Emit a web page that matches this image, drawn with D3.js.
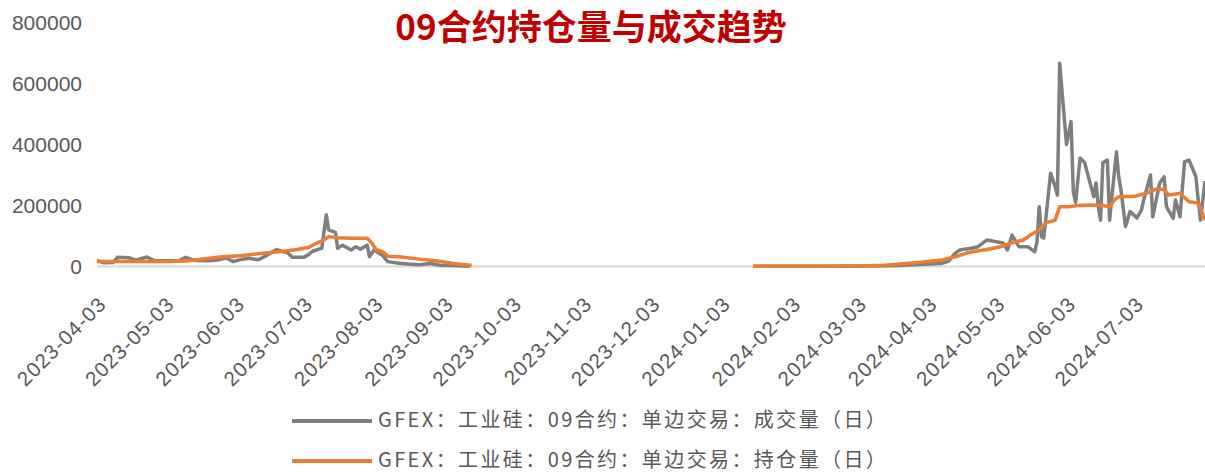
<!DOCTYPE html>
<html>
<head>
<meta charset="utf-8">
<script src="https://cdn.jsdelivr.net/npm/d3@7/dist/d3.min.js"></script>
<style>
  html, body { margin: 0; padding: 0; background: #ffffff; }
  svg { display: block; }
</style>
</head>
<body>
<svg id="chart" width="1205" height="472"></svg>
<script>
// GFEX industrial silicon, 09 contract: daily volume and open interest
const titleText = "09合约持仓量与成交趋势";
const seriesNames = [
  "GFEX：工业硅：09合约：单边交易：成交量（日）",
  "GFEX：工业硅：09合约：单边交易：持仓量（日）"
];

const yTicks = [0, 200000, 400000, 600000, 800000];
const xTickLabels = [
  "2023-04-03", "2023-05-03", "2023-06-03", "2023-07-03", "2023-08-03",
  "2023-09-03", "2023-10-03", "2023-11-03", "2023-12-03", "2024-01-03",
  "2024-02-03", "2024-03-03", "2024-04-03", "2024-05-03", "2024-06-03",
  "2024-07-03"
];

// 成交量 (volume); null marks the break between contract years
const volDates = [
  "2023-04-03","2023-04-06","2023-04-10","2023-04-12","2023-04-17","2023-04-20",
  "2023-04-25","2023-04-28","2023-05-04","2023-05-09","2023-05-12","2023-05-16",
  "2023-05-22","2023-05-26","2023-05-30","2023-06-02","2023-06-06","2023-06-09",
  "2023-06-13","2023-06-16","2023-06-19","2023-06-21","2023-06-26","2023-06-28",
  "2023-07-03","2023-07-05","2023-07-07","2023-07-11","2023-07-13","2023-07-14",
  "2023-07-17","2023-07-18","2023-07-20","2023-07-24","2023-07-26","2023-07-28",
  "2023-07-31","2023-08-01","2023-08-03","2023-08-07","2023-08-09","2023-08-14",
  "2023-08-18","2023-08-23","2023-08-28","2023-09-01","2023-09-06","2023-09-11",
  "2023-09-14",
  "2023-12-01",
  "2024-01-17","2024-02-20","2024-03-11","2024-03-21","2024-04-01","2024-04-09",
  "2024-04-12","2024-04-15","2024-04-17","2024-04-22","2024-04-25","2024-04-29",
  "2024-05-06","2024-05-08","2024-05-10","2024-05-13","2024-05-17","2024-05-20",
  "2024-05-21","2024-05-22","2024-05-23","2024-05-24","2024-05-27","2024-05-29",
  "2024-05-30","2024-05-31","2024-06-03","2024-06-05","2024-06-06","2024-06-07",
  "2024-06-09","2024-06-11","2024-06-13","2024-06-15","2024-06-16","2024-06-17",
  "2024-06-18","2024-06-19","2024-06-21","2024-06-22","2024-06-23","2024-06-25",
  "2024-06-26","2024-06-27","2024-06-29","2024-07-01","2024-07-04","2024-07-06",
  "2024-07-07","2024-07-10","2024-07-11","2024-07-14","2024-07-16","2024-07-17",
  "2024-07-20","2024-07-21","2024-07-23","2024-07-25","2024-07-27","2024-07-30",
  "2024-07-31","2024-08-01","2024-08-03"
];
const volValues = [
  20000, 12000, 13000, 30000, 29000, 21000,
  31000, 20000, 19000, 18000, 30000, 20000,
  19000, 21000, 28000, 16000, 24000, 27000,
  22000, 33000, 47000, 55000, 45000, 30000,
  30000, 38000, 50000, 60000, 170000, 120000,
  112000, 60000, 70000, 54000, 65000, 57000,
  70000, 32000, 54000, 35000, 16000, 11000,
  8000, 6000, 10000, 4000, 3000, 1500,
  500,
  null,
  500, 800, 1500, 3000, 7000, 10000,
  17000, 44000, 54000, 60000, 65000, 87000,
  77000, 54000, 103000, 65000, 65000, 48000,
  81000, 196000, 98000, 93000, 306000, 262000,
  234000, 666000, 400000, 475000, 245000, 210000,
  356000, 340000, 284000, 229000, 274000, 196000,
  152000, 340000, 349000, 152000, 230000, 376000,
  294000, 251000, 131000, 180000, 159000, 185000,
  218000, 300000, 163000, 273000, 294000, 196000,
  158000, 218000, 163000, 344000, 349000, 294000,
  218000, 152000, 280000
];

// 持仓量 (open interest)
const oiDates = [
  "2023-04-03","2023-04-17","2023-05-03","2023-05-12","2023-05-18","2023-05-27",
  "2023-06-05","2023-06-14","2023-06-22","2023-06-30","2023-07-05","2023-07-08",
  "2023-07-12","2023-07-14","2023-07-18","2023-07-24","2023-07-31","2023-08-02",
  "2023-08-04","2023-08-07","2023-08-09","2023-08-14","2023-08-22","2023-08-31",
  "2023-09-07","2023-09-13","2023-09-15",
  "2023-12-01",
  "2024-01-17","2024-02-15","2024-03-08","2024-03-15","2024-03-22","2024-03-31",
  "2024-04-09","2024-04-15","2024-04-20","2024-04-24","2024-04-29","2024-05-05",
  "2024-05-10","2024-05-15","2024-05-18","2024-05-22","2024-05-25","2024-05-29",
  "2024-05-31","2024-06-04","2024-06-08","2024-06-13","2024-06-19","2024-06-22",
  "2024-06-24","2024-06-26","2024-07-03","2024-07-08","2024-07-12","2024-07-16",
  "2024-07-18","2024-07-23","2024-07-27","2024-07-31","2024-08-03"
];
const oiValues = [
  16000, 16000, 16000, 18000, 23000, 31000,
  35000, 43000, 48000, 56000, 62000, 74000,
  87000, 98000, 94000, 93000, 93000, 77000,
  55000, 48000, 34000, 32000, 25000, 18000,
  10000, 5000, 3000,
  null,
  1000, 1200, 2500, 4000, 8000, 14000,
  21000, 32000, 44000, 50000, 56000, 65000,
  78000, 87000, 103000, 120000, 143000, 152000,
  196000, 196000, 200000, 202000, 200000, 196000,
  218000, 229000, 230000, 240000, 253000, 253000,
  234000, 240000, 212000, 208000, 152000
];

const parse = d3.utcParse("%Y-%m-%d");
const volData = volDates.map((d, i) => ({ date: parse(d), value: volValues[i] }));
const oiData = oiDates.map((d, i) => ({ date: parse(d), value: oiValues[i] }));

const svg = d3.select("#chart");
const W = 1205, H = 472;
const plot = { left: 97, right: 1205, top: 22.5, bottom: 266.5 };

const x = d3.scaleUtc()
  .domain([parse("2023-04-03"), parse("2024-08-03")])
  .range([plot.left, plot.right]);
const y = d3.scaleLinear()
  .domain([0, 800000])
  .range([plot.bottom, plot.top]);

const textGray = "#595959";
const latinFont = "'Liberation Sans', Arial, sans-serif";
const cjkFont = "'Noto Sans CJK SC', 'Liberation Sans', sans-serif";

// Title
svg.append("text")
  .attr("x", 591)
  .attr("y", 40)
  .attr("text-anchor", "middle")
  .attr("font-family", cjkFont)
  .attr("font-weight", 700)
  .attr("font-size", 35)
  .attr("fill", "#c00000")
  .text(titleText);

// Y axis labels (no axis line, no ticks)
const yAxis = d3.axisLeft(y).tickValues(yTicks).tickSize(0).tickPadding(0)
  .tickFormat(d3.format("d"));
const yg = svg.append("g").attr("transform", `translate(82,0)`).call(yAxis);
yg.select(".domain").remove();
yg.selectAll("text")
  .attr("font-family", latinFont)
  .attr("font-size", 21)
  .attr("fill", textGray);

// Horizontal baseline at zero
svg.append("line")
  .attr("x1", plot.left).attr("x2", plot.right)
  .attr("y1", y(0)).attr("y2", y(0))
  .attr("stroke", "#d9d9d9").attr("stroke-width", 2);

// X axis labels, rotated
const xTicks = xTickLabels.map(parse);
const xAxis = d3.axisBottom(x).tickValues(xTicks).tickSize(0).tickPadding(0)
  .tickFormat(d3.utcFormat("%Y-%m-%d"));
const xg = svg.append("g").attr("transform", `translate(0,${y(0)})`).call(xAxis);
xg.select(".domain").remove();
xg.selectAll("text")
  .attr("font-family", latinFont)
  .attr("font-size", 20.5)
  .attr("letter-spacing", 1.1)
  .attr("fill", textGray)
  .attr("text-anchor", "end")
  .attr("dy", 0)
  .attr("y", 0)
  .attr("transform", "translate(10,39) rotate(-45)");

// Lines
const line = d3.line()
  .defined(d => d.value !== null)
  .x(d => x(d.date))
  .y(d => y(d.value));

svg.append("clipPath").attr("id", "plot-clip")
  .append("rect").attr("x", 0).attr("y", 0).attr("width", W).attr("height", H);

const colors = ["#7f7f7f", "#ed7d31"];

svg.append("path")
  .datum(volData)
  .attr("fill", "none")
  .attr("stroke", colors[0])
  .attr("stroke-width", 3.5)
  .attr("stroke-linejoin", "round")
  .attr("clip-path", "url(#plot-clip)")
  .attr("d", line);

svg.append("path")
  .datum(oiData)
  .attr("fill", "none")
  .attr("stroke", colors[1])
  .attr("stroke-width", 3.5)
  .attr("stroke-linejoin", "round")
  .attr("clip-path", "url(#plot-clip)")
  .attr("d", line);

// Legend
const legend = svg.append("g");
seriesNames.forEach((name, i) => {
  const ly = 421 + i * 40;
  legend.append("line")
    .attr("x1", 292).attr("x2", 372)
    .attr("y1", ly).attr("y2", ly)
    .attr("stroke", colors[i]).attr("stroke-width", 4);
  legend.append("text")
    .attr("x", 378).attr("y", ly - 1)
    .attr("dy", "0.34em")
    .attr("font-family", cjkFont)
    .attr("font-size", 20)
    .attr("letter-spacing", 2.4)
    .attr("fill", textGray)
    .text(name);
});
</script>
</body>
</html>
